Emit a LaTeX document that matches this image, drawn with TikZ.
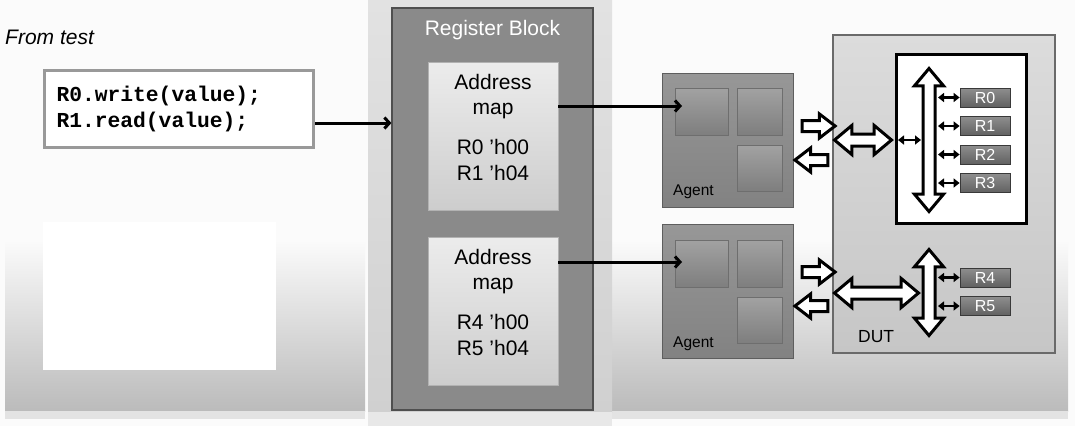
\documentclass[tikz,border=0pt]{standalone}
\usepackage{fontspec}
\setmainfont{Liberation Sans}
\newfontfamily\codefont{Liberation Mono}
\usetikzlibrary{shapes.arrows,arrows.meta}
\definecolor{bgwhite}{HTML}{FBFBFB}
\definecolor{bggray}{HTML}{BBBBBB}
\definecolor{colgray}{HTML}{E2E2E2}
\definecolor{colgraybot}{HTML}{D0D0D0}
\definecolor{rbfill}{HTML}{8A8A8A}
\definecolor{rbedge}{HTML}{4F4F4F}
\definecolor{amtop}{HTML}{ECECEC}
\definecolor{ambot}{HTML}{CDCDCD}
\definecolor{agtop}{HTML}{979797}
\definecolor{agbot}{HTML}{828282}
\definecolor{agedge}{HTML}{5E5E5E}
\definecolor{sqtop}{HTML}{A2A2A2}
\definecolor{sqbot}{HTML}{7E7E7E}
\definecolor{sqhi}{HTML}{C4C4C4}
\definecolor{duttop}{HTML}{DCDCDC}
\definecolor{dutbot}{HTML}{C6C6C6}
\definecolor{dutedge}{HTML}{6A6A6A}
\definecolor{regtop}{HTML}{8E8E8E}
\definecolor{regbot}{HTML}{616161}
\begin{document}
\begin{tikzpicture}[x=1pt,y=-1pt,
  codebox/.style={draw=gray!80, line width=3pt, fill=white, minimum width=269pt, minimum height=77pt, inner sep=0pt},
  regblk/.style={draw=rbedge, line width=1.2pt, fill=rbfill, minimum width=201pt, minimum height=402pt},
  amap/.style={draw=gray!60, line width=0.6pt, top color=amtop, bottom color=ambot, minimum width=130pt, minimum height=148pt},
  amaptxt/.style={align=center, font=\fontsize{21}{25.5}\selectfont},
  agentbox/.style={draw=agedge, line width=1pt, top color=agtop, bottom color=agbot, minimum width=131pt, minimum height=134pt},
  sq/.style={draw=agedge!90, line width=0.8pt, top color=sqtop, bottom color=sqbot,
    path picture={\draw[sqhi, line width=2.5pt] (path picture bounding box.north west) -- (path picture bounding box.north east);}},
  dutbox/.style={draw=dutedge, line width=1.5pt, top color=duttop, bottom color=dutbot, minimum width=222pt, minimum height=318pt},
  busbox/.style={draw=black, line width=3pt, fill=white, minimum width=130pt, minimum height=169pt},
  regbox/.style={draw=gray!45!black, line width=0.8pt, top color=regtop, bottom color=regbot, minimum width=50pt, minimum height=19pt, inner sep=0pt, text=white, font=\fontsize{16}{16}\selectfont},
  blk/.style={draw=black, line width=3pt, fill=white, line join=miter, inner xsep=0pt},
  sarr/.style={blk, single arrow, minimum height=33pt, inner ysep=4pt, single arrow head extend=6.5pt, single arrow tip angle=75},
  darr/.style={blk, double arrow, inner ysep=4.5pt, double arrow head extend=8.5pt, double arrow tip angle=80},
  conn/.style={draw=black, line width=3pt, -{Straight Barb[length=5pt,width=11pt]}},
  tiny/.style={draw=black, line width=2.4pt, {Triangle[length=6pt,width=9pt]}-{Triangle[length=6pt,width=9pt]}},
  lbl/.style={inner sep=0pt, anchor=west}
]
\useasboundingbox (0,0) rectangle (1075,426);
% background
\fill[bgwhite] (0,0) rectangle (1075,426);
\shade[top color=bgwhite, bottom color=bggray] (5,240) rectangle (365,411);
\fill[gray!22] (5,411) rectangle (365,419);
\shade[top color=bgwhite, bottom color=bggray] (612,240) rectangle (1068,411);
\fill[gray!22] (612,411) rectangle (1068,419);
\shade[top color=colgray, bottom color=colgraybot] (368,0) rectangle (612,412);
\fill[gray!18] (368,412) rectangle (612,426);

% test side
\node[lbl, font=\fontsize{21}{21}\selectfont\itshape] (fromtest) at (5,37) {From test};
\node[codebox, text width=245pt, align=left, inner xsep=12pt, font=\codefont\bfseries\fontsize{21.3}{25.5}\selectfont] (code) at (179,109) {R0.write(value);\\R1.read(value);};
\fill[white] (43,222) rectangle (276,370);

% register block
\node[regblk] (rb) at (492.5,209) {};
\node[text=white, font=\fontsize{21}{21}\selectfont] (rbtitle) at (492.5,30) {Register Block};
\node[amap] (am1) at (493,136) {};
\node[amaptxt] (am1t) at (493,127) {Address\\map\\[14.5pt]R0 'h00\\R1 'h04};
\node[amap] (am2) at (493,311) {};
\node[amaptxt] (am2t) at (493,302) {Address\\map\\[14.5pt]R4 'h00\\R5 'h04};

% agents
\node[agentbox] (ag1) at (727.5,140) {};
\node[sq, minimum width=53pt, minimum height=47pt] (ag1a) at (701.5,111.5) {};
\node[sq, minimum width=45pt, minimum height=47pt] (ag1b) at (759.5,111.5) {};
\node[sq, minimum width=45pt, minimum height=46pt] (ag1c) at (759.5,168) {};
\node[lbl, font=\fontsize{15.5}{15.5}\selectfont] (ag1l) at (673,192) {Agent};

\node[agentbox] (ag2) at (727.5,291.5) {};
\node[sq, minimum width=53pt, minimum height=47pt] (ag2a) at (701.5,263.5) {};
\node[sq, minimum width=45pt, minimum height=47pt] (ag2b) at (759.5,263.5) {};
\node[sq, minimum width=45pt, minimum height=46pt] (ag2c) at (759.5,320) {};
\node[lbl, font=\fontsize{15.5}{15.5}\selectfont] (ag2l) at (673,344) {Agent};

% DUT
\node[dutbox] (dut) at (944,194) {};
\node[lbl, font=\fontsize{17.5}{17.5}\selectfont] (dutl) at (858,337) {DUT};
\node[busbox] (bus) at (961.5,139) {};

% block arrows between agents and DUT
\node[sarr] (ra1) at (815,126) {};
\node[sarr, rotate=180] (la1) at (815,160) {};
\node[sarr] (ra2) at (815,272) {};
\node[sarr, rotate=180] (la2) at (815,306) {};

% DUT internal busses
\node[darr, minimum height=57pt] (hd1) at (863,140) {};
\node[darr, minimum height=143pt, rotate=90] (vd1) at (929,140) {};
\node[darr, minimum height=84pt] (hd2) at (876.5,293) {};
\node[darr, minimum height=86pt, rotate=90] (vd2) at (929,292.5) {};

% registers
\node[regbox] (r0) at (985,97.5) {R0};
\node[regbox] (r1) at (985,126) {R1};
\node[regbox] (r2) at (985,154.5) {R2};
\node[regbox] (r3) at (985,183) {R3};
\node[regbox] (r4) at (985,277.5) {R4};
\node[regbox] (r5) at (985,306) {R5};

\coordinate (tap1) at (938,0);
\coordinate (tapin) at (898,140);
\coordinate (tapout) at (921,140);
\draw[tiny] (tapin) -- (tapout);
\foreach \r in {r0,r1,r2,r3,r4,r5}
  \draw[tiny] (tap1 |- \r) -- (\r.west);

% connectors
\draw[conn] ([yshift=-14pt]code.east) -- ([yshift=-14pt]code.east -| rb.west);
\draw[conn] ([yshift=30pt]am1.east) -- ([yshift=30pt]am1.east -| 682,0);
\draw[conn] ([yshift=49pt]am2.east) -- ([yshift=49pt]am2.east -| 682,0);
\end{tikzpicture}
\end{document}
